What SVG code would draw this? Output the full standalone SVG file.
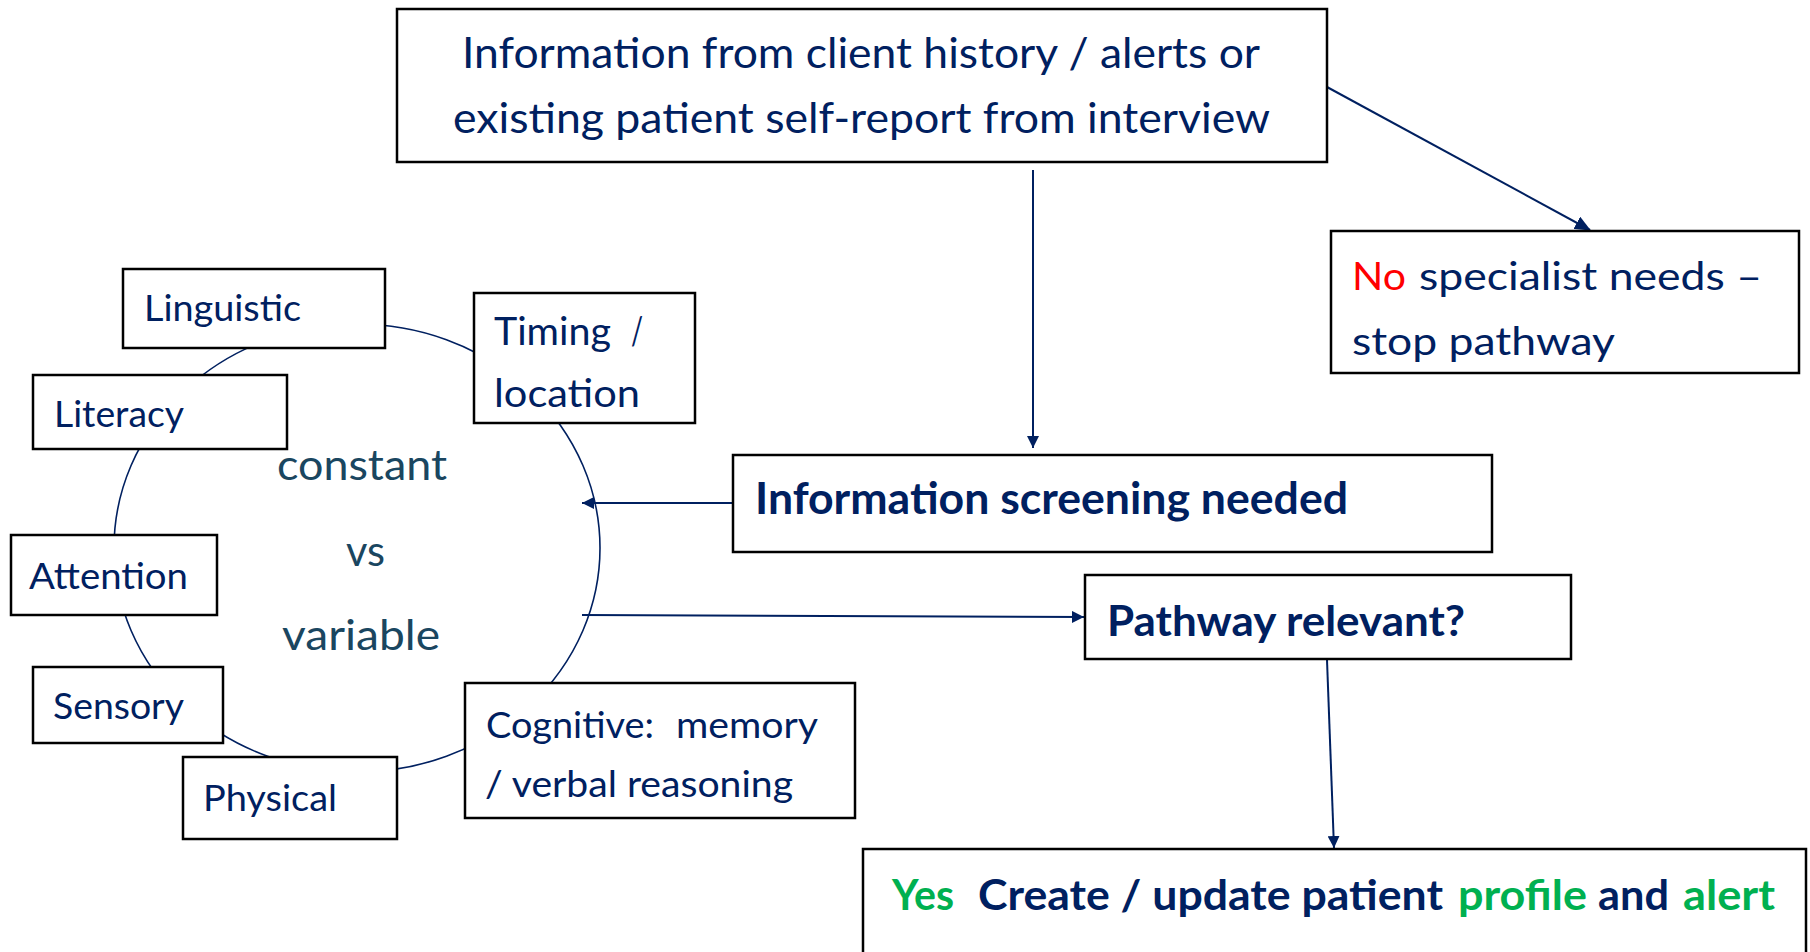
<svg xmlns="http://www.w3.org/2000/svg" width="1810" height="952" viewBox="0 0 1810 952">
<style>
.box{fill:#fff;stroke:#000;stroke-width:2.5}
.t{font-family:Lato,"Open Sans","Liberation Sans",sans-serif;fill:#002060}
.b{font-weight:bold}
.red{fill:#FF0000}
.grn{fill:#00B050}
.mid{fill:#1A4660}
.con{stroke:#002060;stroke-width:2;fill:none}
</style>
<defs>
<marker id="ah" markerUnits="userSpaceOnUse" markerWidth="16" markerHeight="14" refX="15" refY="7" orient="auto">
<path d="M0,0 L16,7 L0,14 Z" fill="#002060"/>
</marker>
<marker id="ahs" markerUnits="userSpaceOnUse" markerWidth="12" markerHeight="12" refX="12" refY="6" orient="auto">
<path d="M0,0 L12,6 L0,12 Z" fill="#002060"/>
</marker>
</defs>
<ellipse cx="357" cy="548" rx="243" ry="224" fill="none" stroke="#002060" stroke-width="1.6"/>
<g id="connectors">
<line class="con" x1="1327" y1="87" x2="1590" y2="230" marker-end="url(#ah)"/>
<line class="con" x1="1033" y1="170" x2="1033" y2="448" marker-end="url(#ahs)"/>
<line class="con" x1="733" y1="503" x2="582" y2="503" marker-end="url(#ahs)"/>
<line class="con" x1="582" y1="615" x2="1084" y2="617" marker-end="url(#ahs)"/>
<line class="con" x1="1327" y1="660" x2="1334" y2="848" marker-end="url(#ahs)"/>
</g>
<g id="n-source">
<rect class="box" x="397" y="9" width="930" height="153"/>
<text class="t" x="462" y="68" font-size="43" textLength="798" lengthAdjust="spacingAndGlyphs">Information from client history / alerts or</text>
<text class="t" x="453" y="133" font-size="43" textLength="817" lengthAdjust="spacingAndGlyphs">existing patient self-report from interview</text>
</g>
<g id="n-stop">
<rect class="box" x="1331" y="231" width="468" height="142"/>
<text class="t red" x="1352" y="290" font-size="39" textLength="54" lengthAdjust="spacingAndGlyphs">No</text>
<text class="t" x="1419" y="290" font-size="39" textLength="343" lengthAdjust="spacingAndGlyphs">specialist needs –</text>
<text class="t" x="1352" y="355" font-size="39" textLength="263" lengthAdjust="spacingAndGlyphs">stop pathway</text>
</g>
<g id="n-screening">
<rect class="box" x="733" y="455" width="759" height="97"/>
<text class="t b" x="755" y="514" font-size="43" textLength="593" lengthAdjust="spacingAndGlyphs">Information screening needed</text>
</g>
<g id="n-relevant">
<rect class="box" x="1085" y="575" width="486" height="84"/>
<text class="t b" x="1107" y="636" font-size="42" textLength="358" lengthAdjust="spacingAndGlyphs">Pathway relevant?</text>
</g>
<g id="n-yes">
<rect class="box" x="863" y="849" width="943" height="120"/>
<text class="t b grn" x="892" y="910" font-size="42" textLength="62" lengthAdjust="spacingAndGlyphs">Yes</text>
<text class="t b" x="978" y="910" font-size="42" textLength="465" lengthAdjust="spacingAndGlyphs">Create / update patient</text>
<text class="t b grn" x="1458" y="910" font-size="42" textLength="129" lengthAdjust="spacingAndGlyphs">profile</text>
<text class="t b" x="1598" y="910" font-size="42" textLength="71" lengthAdjust="spacingAndGlyphs">and</text>
<text class="t b grn" x="1683" y="910" font-size="42" textLength="92" lengthAdjust="spacingAndGlyphs">alert</text>
</g>
<g id="n-linguistic">
<rect class="box" x="123" y="269" width="262" height="79"/>
<text class="t" x="144" y="321" font-size="36" textLength="157" lengthAdjust="spacingAndGlyphs">Linguistic</text>
</g>
<g id="n-timing">
<rect class="box" x="474" y="293" width="221" height="130"/>
<text class="t" x="494" y="345" font-size="39" textLength="117" lengthAdjust="spacingAndGlyphs">Timing</text>
<text class="t" x="631" y="345" font-size="39" textLength="12" lengthAdjust="spacingAndGlyphs">/</text>
<text class="t" x="494" y="407" font-size="39" textLength="146" lengthAdjust="spacingAndGlyphs">location</text>
</g>
<g id="n-literacy">
<rect class="box" x="33" y="375" width="254" height="74"/>
<text class="t" x="54" y="427" font-size="36" textLength="130" lengthAdjust="spacingAndGlyphs">Literacy</text>
</g>
<g id="n-attention">
<rect class="box" x="11" y="535" width="206" height="80"/>
<text class="t" x="29" y="589" font-size="36" textLength="159" lengthAdjust="spacingAndGlyphs">Attention</text>
</g>
<g id="n-sensory">
<rect class="box" x="33" y="667" width="190" height="76"/>
<text class="t" x="53" y="719" font-size="36" textLength="131" lengthAdjust="spacingAndGlyphs">Sensory</text>
</g>
<g id="n-physical">
<rect class="box" x="183" y="757" width="214" height="82"/>
<text class="t" x="203" y="811" font-size="36" textLength="134" lengthAdjust="spacingAndGlyphs">Physical</text>
</g>
<g id="n-cognitive">
<rect class="box" x="465" y="683" width="390" height="135"/>
<text class="t" x="486" y="738" font-size="37" textLength="168" lengthAdjust="spacingAndGlyphs">Cognitive:</text>
<text class="t" x="676" y="738" font-size="37" textLength="142" lengthAdjust="spacingAndGlyphs">memory</text>
<text class="t" x="485" y="797" font-size="37" textLength="308" lengthAdjust="spacingAndGlyphs">/ verbal reasoning</text>
</g>
<g id="center-label">
<text class="t mid" x="277" y="480" font-size="43" textLength="170" lengthAdjust="spacingAndGlyphs">constant</text>
<text class="t mid" x="346" y="566" font-size="43" textLength="39" lengthAdjust="spacingAndGlyphs">vs</text>
<text class="t mid" x="282" y="650" font-size="43" textLength="158" lengthAdjust="spacingAndGlyphs">variable</text>
</g>
</svg>
